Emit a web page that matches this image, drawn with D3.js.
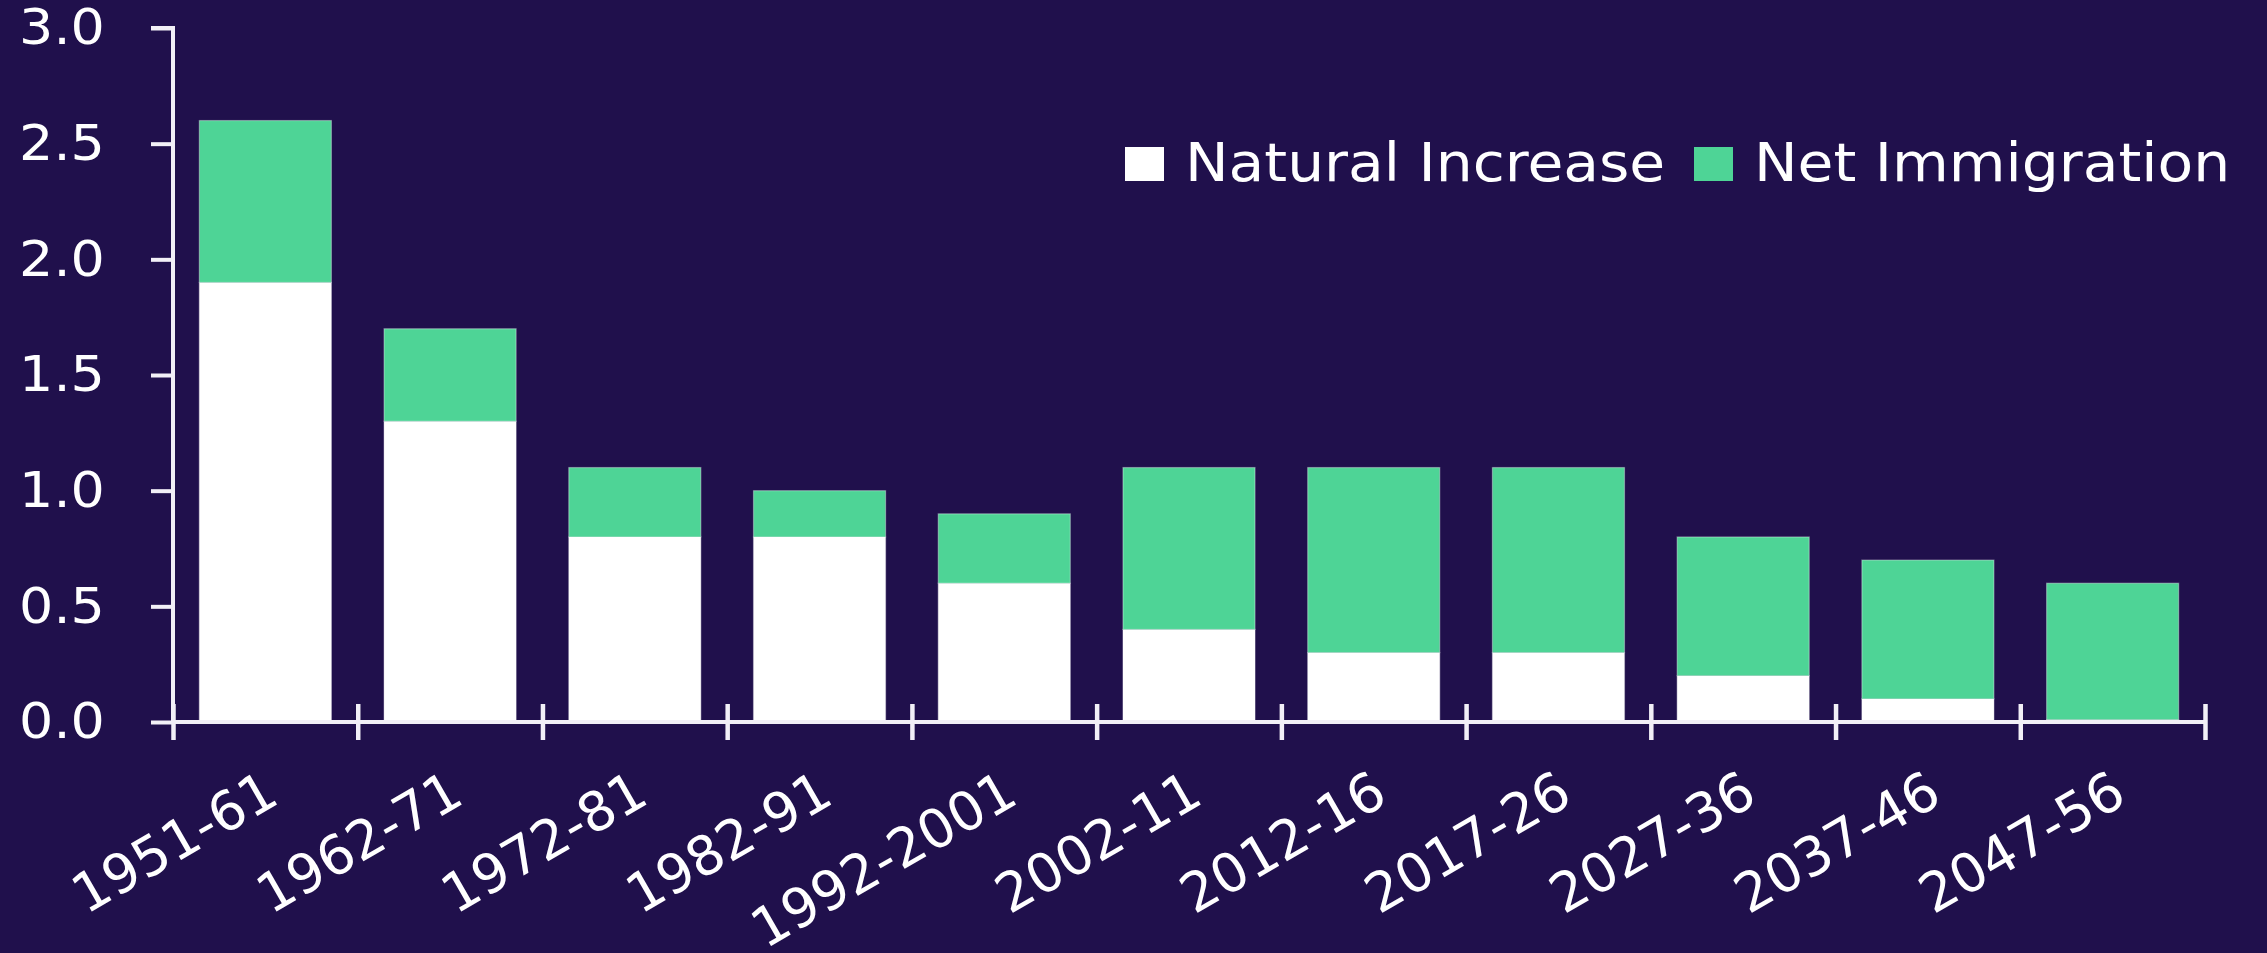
<!DOCTYPE html>
<html>
<head>
<meta charset="utf-8">
<script src="https://cdn.jsdelivr.net/npm/d3@7"></script>
<style>
  html, body { margin: 0; padding: 0; background: #20104c; }
  svg { display: block; }
  svg text { font-family: 'DejaVu Sans', sans-serif; }
</style>
</head>
<body>
<svg id="chart" width="2267" height="953"></svg>
<script>
const periods = ['1951-61', '1962-71', '1972-81', '1982-91', '1992-2001', '2002-11',
  '2012-16', '2017-26', '2027-36', '2037-46', '2047-56']
const naturalIncrease = [1.9, 1.3, 0.8, 0.8, 0.6, 0.4, 0.3, 0.3, 0.2, 0.1, 0.01]
const netImmigration = [0.7, 0.4, 0.3, 0.2, 0.3, 0.7, 0.8, 0.8, 0.6, 0.6, 0.59]
const yTicks = [0, 0.5, 1, 1.5, 2, 2.5, 3]
const seriesNames = ['Natural Increase', 'Net Immigration']
const colors = ['#ffffff', '#4ed496']

const svg = d3.select('#chart')
const plotLeft = 173
const plotRight = 2205
const plotTop = 28
const plotBottom = 722
// y labels and legend text come out a little wide in the original
const stretch = 'scale(1.1,1)'

const x = d3
  .scaleBand()
  .domain(periods)
  .range([plotLeft, plotRight])
  .paddingInner(0.285)
  .paddingOuter(0.1425)
const xEdge = d3
  .scaleLinear()
  .domain([0, periods.length])
  .range([plotLeft, plotRight])
const y = d3
  .scaleLinear()
  .domain([0, 3])
  .range([plotBottom, plotTop])

const rows = periods.map((p, i) => ({ period: p, natural: naturalIncrease[i], immigration: netImmigration[i] }))
const stacked = d3.stack().keys(['natural', 'immigration'])(rows)

svg
  .append('g')
  .selectAll('g')
  .data(stacked)
  .join('g')
  .attr('fill', (d, i) => colors[i])
  .attr('stroke', 'rgba(255,255,255,0.35)')
  .attr('stroke-width', 1.2)
  .selectAll('rect')
  .data(d => d)
  .join('rect')
  .attr('x', d => x(d.data.period))
  .attr('width', x.bandwidth())
  .attr('y', d => y(d[1]))
  .attr('height', d => y(d[0]) - y(d[1]))

const axisColor = '#f2f0f7'

// y axis
const yAxis = svg
  .append('g')
  .attr('transform', `translate(${plotLeft},0)`)
  .call(d3.axisLeft(y).tickValues(yTicks).tickFormat(d3.format('.1f')).tickSize(22))
yAxis.select('.domain').attr('stroke', axisColor).attr('stroke-width', 4).attr('d', `M-22,${plotTop}H0V${plotBottom}`)
yAxis.selectAll('.tick line').attr('stroke', axisColor).attr('stroke-width', 4)
yAxis
  .selectAll('.tick text')
  .attr('fill', '#ffffff')
  .attr('x', -62)
  .attr('transform', stretch)
  .style('font-size', '49px')

// x axis: ticks sit at the band edges and cross the line
const xAxis = svg
  .append('g')
  .attr('transform', `translate(0,${plotBottom})`)
  .call(d3.axisBottom(xEdge).tickValues(d3.range(periods.length + 1)).tickFormat('').tickSize(18))
xAxis.select('.domain').attr('stroke', axisColor).attr('stroke-width', 4).attr('d', `M${plotLeft},0H${plotRight}`)
xAxis.selectAll('.tick line').attr('stroke', axisColor).attr('stroke-width', 4.5).attr('y1', -18)

// x labels
const xLabels = svg
  .append('g')
  .attr('transform', `translate(0,${plotBottom})`)
  .call(d3.axisBottom(x).tickSize(0).tickPadding(0))
xLabels.select('.domain').remove()
xLabels
  .selectAll('.tick text')
  .attr('fill', '#ffffff')
  .style('font-size', '54px')
  .attr('text-anchor', 'end')
  .attr('y', 0)
  .attr('dy', 0)
  .attr('transform', 'translate(16,80) rotate(-30)')

// legend
const legend = svg.append('g').attr('transform', 'translate(1125,147)')
const legendX = [0, 569]
seriesNames.forEach((name, i) => {
  const g = legend.append('g').attr('transform', `translate(${legendX[i]},0)`)
  g.append('rect').attr('width', 39).attr('height', 34).attr('fill', colors[i])
  g.append('text')
    .attr('transform', `translate(60,34) ${stretch}`)
    .attr('fill', '#ffffff')
    .style('font-size', '53px')
    .text(name)
})
</script>
</body>
</html>
